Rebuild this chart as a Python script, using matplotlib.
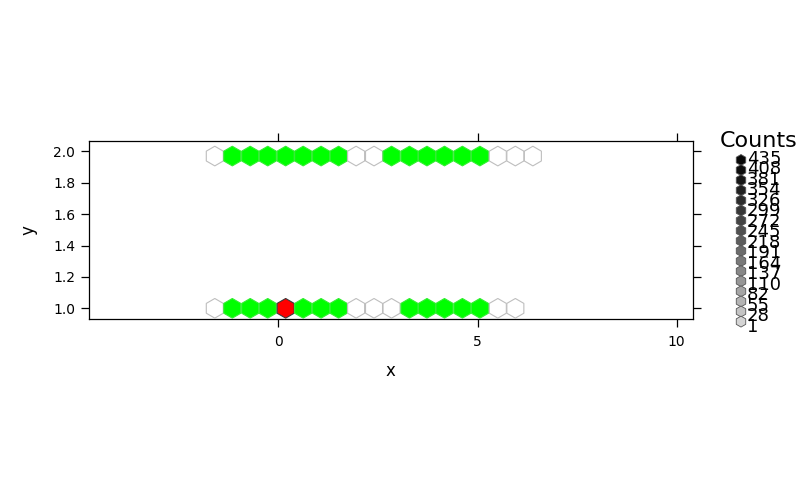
import numpy as np
import matplotlib
matplotlib.use('Agg')
import matplotlib.pyplot as plt

# hexagon centres (x) and the two rows of cells
hex_x = [-1.60, -1.16, -0.71, -0.27, 0.18, 0.62, 1.07, 1.51, 1.95, 2.40,
         2.84, 3.29, 3.73, 4.17, 4.62, 5.06, 5.51, 5.95, 6.39]
row_y = [1.97, 1.00]

# cell state per row: 'w' = empty/white, 'g' = green, 'r' = red
top_state = ['w', 'g', 'g', 'g', 'g', 'g', 'g', 'g', 'w', 'w',
             'g', 'g', 'g', 'g', 'g', 'g', 'w', 'w', 'w']
bottom_state = ['w', 'g', 'g', 'g', 'r', 'g', 'g', 'g', 'w', 'w',
                'w', 'g', 'g', 'g', 'g', 'g', 'w', 'w']

# legend
legend_counts = [435, 408, 381, 354, 326, 299, 272, 245, 218, 191,
                 164, 137, 110, 82, 55, 28, 1]

x_ticks = [0, 5, 10]
y_ticks = [1.0, 1.2, 1.4, 1.6, 1.8, 2.0]

face = {'w': 'white', 'g': '#00ff00', 'r': '#ff0000'}
edge = {'w': '#bebebe', 'g': '#33ee33', 'r': '#3a3a3a'}

W, H, dpi = 799, 494, 100
fig = plt.figure(figsize=(W / dpi, H / dpi), dpi=dpi)

# main panel
ax = fig.add_axes([89 / W, (H - 319.3) / H, (692.5 - 89) / W, (319.3 - 141) / H])
ax.set_xlim(-4.76, 10.40)
ax.set_ylim(0.930, 2.066)

for states, y in zip([top_state, bottom_state], row_y):
    xs = hex_x[:len(states)]
    ax.scatter(xs, [y] * len(xs), marker='h', s=200,
               facecolors=[face[s] for s in states],
               edgecolors=[edge[s] for s in states], linewidths=0.8, zorder=3)

ax.set_xticks(x_ticks)
ax.set_yticks(y_ticks)
ax.set_yticklabels([f'{v:.1f}' for v in y_ticks])
ax.tick_params(direction='out', length=6, width=0.9, labelsize=10,
               top=True, right=True, labeltop=False, labelright=False,
               colors='black')
ax.tick_params(axis='x', pad=5)
ax.tick_params(axis='y', pad=4)
for sp in ax.spines.values():
    sp.set_linewidth(0.9)
ax.set_xlabel('x', fontsize=12, labelpad=10)
ax.set_ylabel('y', fontsize=12, labelpad=11)

# legend "Counts"
lax = fig.add_axes([715 / W, (H - 340) / H, 84 / W, 205 / H])
lax.set_xlim(715, 799)
lax.set_ylim(340, 135)
lax.axis('off')
u = np.linspace(0, 1, len(legend_counts))
levels = 0.03 + 0.80 * u ** 1.25
greys = [(v, v, v) for v in levels]
ly = [160 + 10.1 * i for i in range(len(legend_counts))]
lax.scatter([741] * len(ly), ly, marker='h', s=62, c=greys,
            edgecolors='#555555', linewidths=0.6, zorder=3)
ty = [158.5 + 10.53 * i for i in range(len(legend_counts))]
for c, yy in zip(legend_counts, ty):
    lax.text(747, yy, str(c), fontsize=13, ha='left', va='center')
fig.text(758.5 / W, (H - 141) / H, 'Counts', fontsize=16, ha='center', va='center')

fig.savefig('out.png', dpi=dpi)
